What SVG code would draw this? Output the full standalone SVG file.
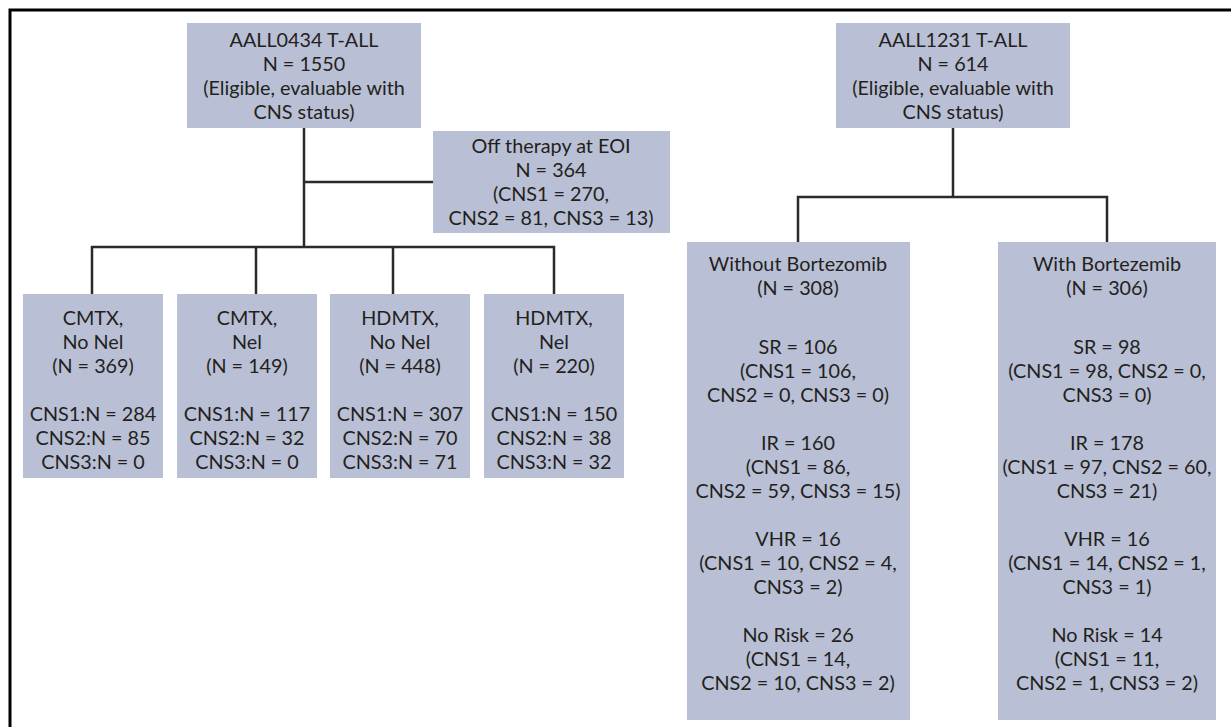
<svg xmlns="http://www.w3.org/2000/svg" width="1231" height="727" viewBox="0 0 1231 727">
<style>
.box{fill:#b9bfd4}
.t{font-family:Lato,"Noto Sans","Liberation Sans",sans-serif;font-size:19.8px;fill:#231f20;text-anchor:middle}
.ln{stroke:#2a2a2a;stroke-width:2.5;fill:none}
.frame{stroke:#000;stroke-width:3;fill:none}
</style>
<rect width="1231" height="727" fill="#fff"/>
<path class="frame" d="M10,727 V10 H1231"/>
<g id="connectors">
<path class="ln" d="M304,128 V247"/>
<path class="ln" d="M304,182 H433"/>
<path class="ln" d="M92,294 V247 H554 V294"/>
<path class="ln" d="M256,247 V294"/>
<path class="ln" d="M393,247 V294"/>
<path class="ln" d="M953,128 V197"/>
<path class="ln" d="M798,242 V197 H1107 V242"/>
</g>
<g id="aall0434">
<rect class="box" x="187" y="23" width="234" height="105"/>
<text class="t" x="304" y="47">AALL0434 T-ALL</text>
<text class="t" x="304" y="71">N = 1550</text>
<text class="t" x="304" y="95">(Eligible, evaluable with</text>
<text class="t" x="304" y="119">CNS status)</text>
</g>
<g id="offtherapy">
<rect class="box" x="433" y="131" width="237" height="102"/>
<text class="t" x="551" y="153">Off therapy at EOI</text>
<text class="t" x="551" y="177">N = 364</text>
<text class="t" x="551" y="201">(CNS1 = 270,</text>
<text class="t" x="551" y="225">CNS2 = 81, CNS3 = 13)</text>
</g>
<g id="cmtx-nonel">
<rect class="box" x="23" y="294" width="140" height="184"/>
<text class="t" x="93" y="325">CMTX,</text>
<text class="t" x="93" y="349">No Nel</text>
<text class="t" x="93" y="373">(N = 369)</text>
<text class="t" x="93" y="421">CNS1:N = 284</text>
<text class="t" x="93" y="445">CNS2:N = 85</text>
<text class="t" x="93" y="469">CNS3:N = 0</text>
</g>
<g id="cmtx-nel">
<rect class="box" x="177" y="294" width="140" height="184"/>
<text class="t" x="247" y="325">CMTX,</text>
<text class="t" x="247" y="349">Nel</text>
<text class="t" x="247" y="373">(N = 149)</text>
<text class="t" x="247" y="421">CNS1:N = 117</text>
<text class="t" x="247" y="445">CNS2:N = 32</text>
<text class="t" x="247" y="469">CNS3:N = 0</text>
</g>
<g id="hdmtx-nonel">
<rect class="box" x="330" y="294" width="140" height="184"/>
<text class="t" x="400" y="325">HDMTX,</text>
<text class="t" x="400" y="349">No Nel</text>
<text class="t" x="400" y="373">(N = 448)</text>
<text class="t" x="400" y="421">CNS1:N = 307</text>
<text class="t" x="400" y="445">CNS2:N = 70</text>
<text class="t" x="400" y="469">CNS3:N = 71</text>
</g>
<g id="hdmtx-nel">
<rect class="box" x="484" y="294" width="140" height="184"/>
<text class="t" x="554" y="325">HDMTX,</text>
<text class="t" x="554" y="349">Nel</text>
<text class="t" x="554" y="373">(N = 220)</text>
<text class="t" x="554" y="421">CNS1:N = 150</text>
<text class="t" x="554" y="445">CNS2:N = 38</text>
<text class="t" x="554" y="469">CNS3:N = 32</text>
</g>
<g id="aall1231">
<rect class="box" x="836" y="23" width="234" height="105"/>
<text class="t" x="953" y="47">AALL1231 T-ALL</text>
<text class="t" x="953" y="71">N = 614</text>
<text class="t" x="953" y="95">(Eligible, evaluable with</text>
<text class="t" x="953" y="119">CNS status)</text>
</g>
<g id="without">
<rect class="box" x="687" y="242" width="223" height="478"/>
<text class="t" x="798" y="271">Without Bortezomib</text>
<text class="t" x="798" y="295">(N = 308)</text>
<text class="t" x="798" y="354">SR = 106</text>
<text class="t" x="798" y="378">(CNS1 = 106,</text>
<text class="t" x="798" y="402">CNS2 = 0, CNS3 = 0)</text>
<text class="t" x="798" y="450">IR = 160</text>
<text class="t" x="798" y="474">(CNS1 = 86,</text>
<text class="t" x="798" y="498">CNS2 = 59, CNS3 = 15)</text>
<text class="t" x="798" y="546">VHR = 16</text>
<text class="t" x="798" y="570">(CNS1 = 10, CNS2 = 4,</text>
<text class="t" x="798" y="594">CNS3 = 2)</text>
<text class="t" x="798" y="642">No Risk = 26</text>
<text class="t" x="798" y="666">(CNS1 = 14,</text>
<text class="t" x="798" y="690">CNS2 = 10, CNS3 = 2)</text>
</g>
<g id="with">
<rect class="box" x="998" y="242" width="218" height="478"/>
<text class="t" x="1107" y="271">With Bortezemib</text>
<text class="t" x="1107" y="295">(N = 306)</text>
<text class="t" x="1107" y="354">SR = 98</text>
<text class="t" x="1107" y="378">(CNS1 = 98, CNS2 = 0,</text>
<text class="t" x="1107" y="402">CNS3 = 0)</text>
<text class="t" x="1107" y="450">IR = 178</text>
<text class="t" x="1107" y="474">(CNS1 = 97, CNS2 = 60,</text>
<text class="t" x="1107" y="498">CNS3 = 21)</text>
<text class="t" x="1107" y="546">VHR = 16</text>
<text class="t" x="1107" y="570">(CNS1 = 14, CNS2 = 1,</text>
<text class="t" x="1107" y="594">CNS3 = 1)</text>
<text class="t" x="1107" y="642">No Risk = 14</text>
<text class="t" x="1107" y="666">(CNS1 = 11,</text>
<text class="t" x="1107" y="690">CNS2 = 1, CNS3 = 2)</text>
</g>
</svg>
